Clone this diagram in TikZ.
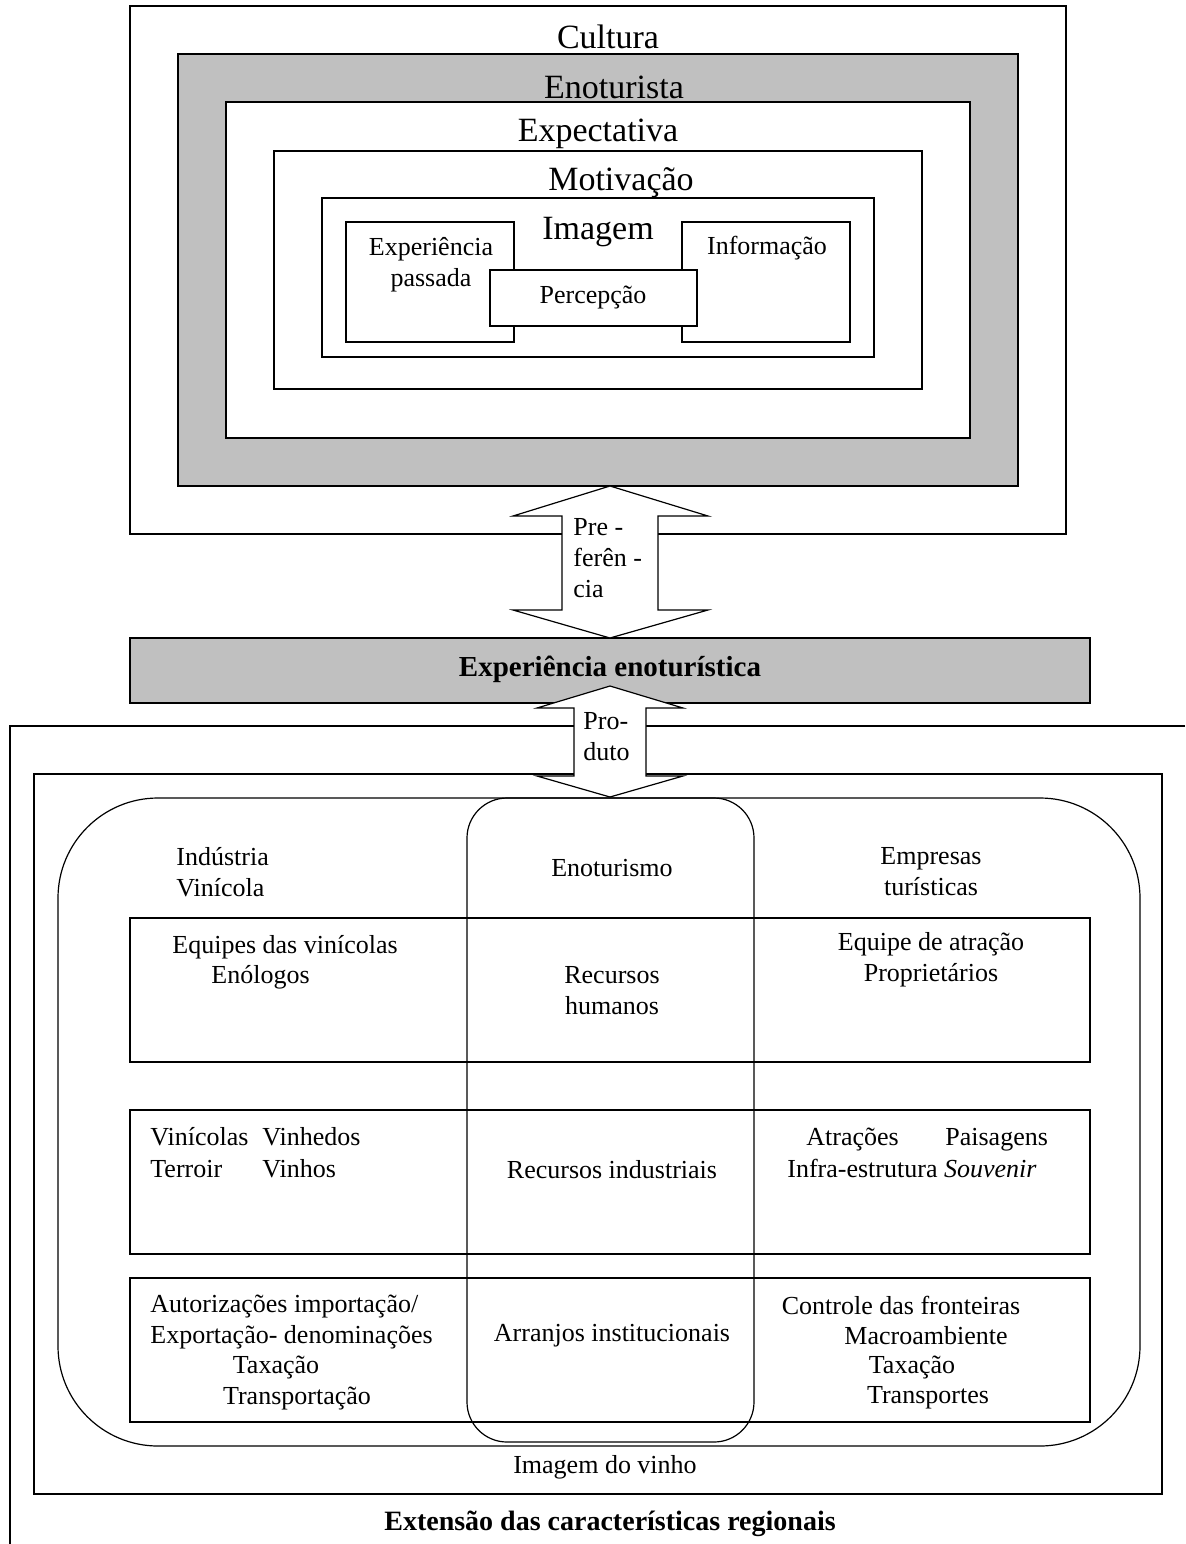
\documentclass[tikz,border=0pt]{standalone}
\usepackage{fontspec}
\setmainfont{Liberation Serif}
\usepackage{tikz}
\definecolor{cinza}{RGB}{192,192,192}
\tikzstyle{cadre} = [draw, line width=0.6pt]
\tikzstyle{cadregris} = [draw, fill=cinza, line width=0.6pt]
\tikzstyle{seta} = [draw, fill=white, line width=0.6pt, line join=miter]
\tikzstyle{grand} = [inner sep=0pt, font=\fontsize{17}{20}\selectfont]
\tikzstyle{texte} = [inner sep=0pt, align=center, font=\fontsize{13}{15.5}\selectfont]
\tikzstyle{gauche} = [texte, anchor=west, align=left]
\tikzstyle{ligne} = [texte, anchor=base west]

\begin{document}
\begin{tikzpicture}[x=0.5pt, y=-0.5pt]
	\useasboundingbox (0,0) rectangle (1185,1544);

	% cadres du haut
	\draw[cadre] (130,6) rectangle (1066,534);
	\draw[cadregris] (178,54) rectangle (1018,486);
	\draw[cadre, fill=white] (226,102) rectangle (970,438);
	\draw[cadre] (274,151) rectangle (922,389);
	\draw[cadre] (322,198) rectangle (874,357);
	\draw[cadre] (346,222) rectangle (514,342);
	\draw[cadre] (682,222) rectangle (850,342);
	\draw[cadre, fill=white] (490,270) rectangle (697,326);

	\draw[cadregris] (130,638) rectangle (1090,703);

	% cadres du bas
	\draw[cadre] (1185,726) -- (10,726) -- (10,1544);
	\draw[cadre] (34,774) rectangle (1162,1494);
	\draw[cadre, rounded corners=50pt] (58,798) rectangle (1140,1446);
	\draw[cadre, rounded corners=20pt] (467,798) rectangle (754,1442);
	\foreach \ha/\hb in {918/1062, 1110/1254, 1278/1422}
		\draw[cadre] (130,\ha) rectangle (1090,\hb);

	% fleches
	\coordinate (prefH) at (610,486);
	\coordinate (prefB) at (610,638);
	\draw[seta] (prefH) -- ++(98,30) -- ++(-50,0) -- ++(0,94) -- ++(50,0) -- (prefB)
		-- ++(-97,-28) -- ++(49,0) -- ++(0,-94) -- ++(-49,0) -- cycle;

	\coordinate (prodH) at (610,686);
	\coordinate (prodB) at (610,797);
	\draw[seta] (prodH) -- ++(73,22) -- ++(-37,0) -- ++(0,68) -- ++(37,0) -- (prodB)
		-- ++(-73,-21) -- ++(37,0) -- ++(0,-68) -- ++(-37,0) -- cycle;

	% textes du haut
	\node[grand] (cultura) at (608,37) {Cultura};
	\node[grand] (enoturista) at (614,87) {Enoturista};
	\node[grand] (expectativa) at (598,134) {Expectativa};
	\node[grand] (motivacao) at (621,183) {Motivação};
	\node[grand] (imagem) at (598,232) {Imagem};
	\node[texte] (passada) at (431,265) {Experiência\\passada};
	\node[texte] (informacao) at (767,248) {Informação};
	\node[texte] (percepcao) at (593,297) {Percepção};

	\node[gauche] (preferencia) at (573,558) {Pre -\\ferên -\\cia};
	\node[texte, font=\fontsize{14.5}{17}\selectfont\bfseries] (experiencia) at (610,669) {Experiência enoturística};
	\node[gauche] (produto) at (583,737) {Pro-\\duto};

	% textes du bas
	\node[gauche] (industria) at (176,872) {Indústria\\Vinícola};
	\node[texte] (enoturismo) at (612,868) {Enoturismo};
	\node[texte] (empresas) at (931,872) {Empresas\\turísticas};

	\node[ligne] (equipes) at (172,953) {Equipes das vinícolas};
	\node[ligne] (enologos) at (211,983) {Enólogos};
	\node[texte] (humanos) at (612,991) {Recursos\\humanos};
	\node[texte] (atracao) at (931,960) {Equipe de atração\\Proprietários};

	\node[ligne] (vinicolas) at (150,1145) {Vinícolas};
	\node[ligne] (vinhedos) at (262,1145) {Vinhedos};
	\node[ligne] (terroir) at (150,1177) {Terroir};
	\node[ligne] (vinhos) at (262,1177) {Vinhos};
	\node[texte] (industriais) at (612,1170) {Recursos industriais};
	\node[ligne] (atracoes) at (806,1145) {Atrações};
	\node[ligne] (paisagens) at (945,1145) {Paisagens};
	\node[ligne] (infra) at (787,1177) {Infra-estrutura \textit{Souvenir}};

	\node[ligne] (autorizacoes) at (150,1312) {Autorizações importação/};
	\node[ligne] (exportacao) at (150,1343) {Exportação- denominações};
	\node[texte] (taxacao) at (276,1367) {Taxação};
	\node[texte] (transportacao) at (297,1398) {Transportação};
	\node[texte] (arranjos) at (612,1336) {Arranjos institucionais};
	\node[texte] (fronteiras) at (901,1305) {Controle das fronteiras};
	\node[texte] (macro) at (926,1336) {Macroambiente};
	\node[texte] (taxacao2) at (912,1367) {Taxação};
	\node[texte] (transportes) at (928,1398) {Transportes};

	\node[texte] (vinho) at (605,1467) {Imagem do vinho};
	\node[texte, font=\fontsize{14}{17}\selectfont\bfseries] (extensao) at (610,1524) {Extensão das características regionais};

\end{tikzpicture}
\end{document}
